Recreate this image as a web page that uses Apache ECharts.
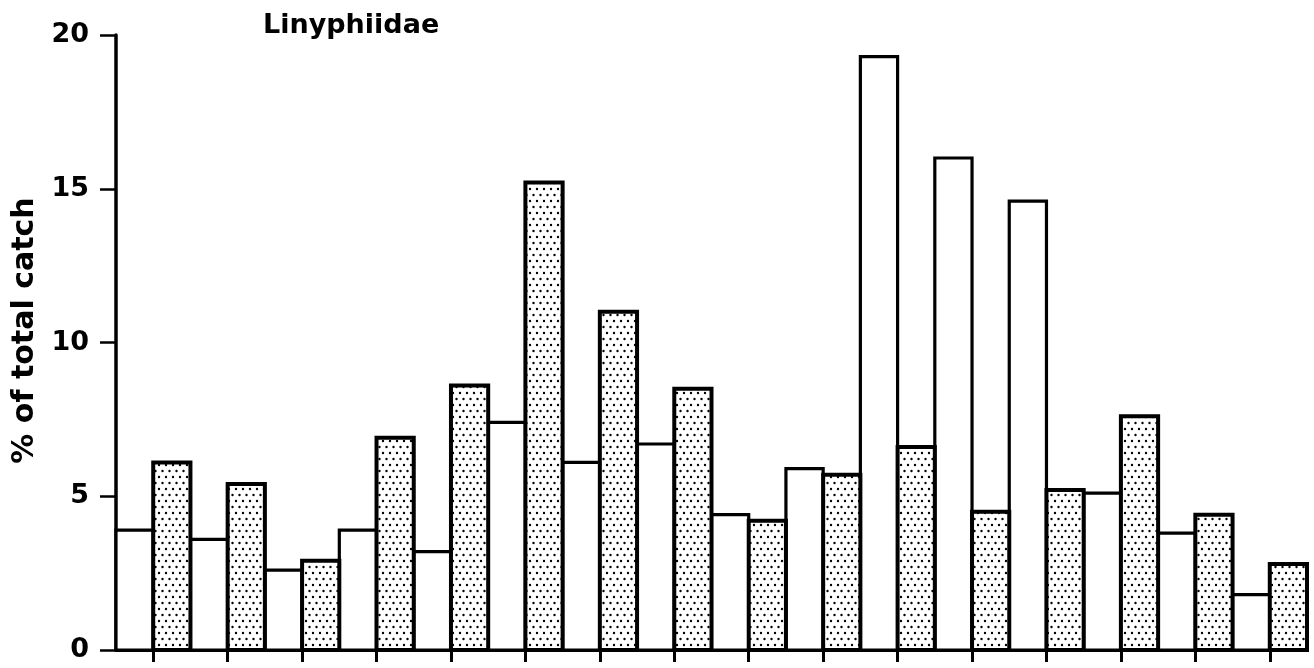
<!DOCTYPE html>
<html>
<head>
<meta charset="utf-8">
<script src="https://cdn.jsdelivr.net/npm/echarts@6/dist/echarts.min.js"></script>
<style>
html,body{margin:0;padding:0;background:#fff;}
#c{width:1314px;height:668px;}
</style>
</head>
<body>
<div id="c"></div>
<script>
// Data
const categories = ['1','2','3','4','5','6','7','8','9','10','11','12','13','14','15','16'];
const openValues = [3.9, 3.6, 2.6, 3.9, 3.2, 7.4, 6.1, 6.7, 4.4, 5.9, 19.3, 16.0, 14.6, 5.1, 3.8, 1.8];
const stippledValues = [6.1, 5.4, 2.9, 6.9, 8.6, 15.2, 11.0, 8.5, 4.2, 5.7, 6.6, 4.5, 5.2, 7.6, 4.4, 2.8];
const yTicks = [0, 5, 10, 15, 20];
const titleText = 'Linyphiidae';
const yName = '% of total catch';

// stipple pattern
const pc = document.createElement('canvas');
pc.width = 7; pc.height = 12;
const g = pc.getContext('2d');
g.fillStyle = '#fff'; g.fillRect(0, 0, 7, 12);
g.fillStyle = '#000';
g.beginPath(); g.arc(1.5, 3, 1.2, 0, Math.PI * 2); g.fill();
g.beginPath(); g.arc(5, 9, 1.2, 0, Math.PI * 2); g.fill();
const stipple = {image: pc, repeat: 'repeat'};

function barRenderer(side, fill, lw) {
  return function (params, api) {
    const idx = api.value(0);
    const val = api.value(1);
    const top = api.coord([idx, val]);
    const base = api.coord([idx, 0]);
    const w = api.size([1, 0])[0] / 2;
    const x = side === 0 ? top[0] - w : top[0];
    return {
      type: 'rect',
      shape: {x: x, y: top[1], width: w, height: base[1] - top[1]},
      style: {fill: fill, stroke: '#000', lineWidth: lw}
    };
  };
}

const chart = echarts.init(document.getElementById('c'), null, {renderer: 'canvas'});
const font = '"DejaVu Sans", sans-serif';
chart.setOption({
  animation: false,
  backgroundColor: '#fff',
  title: {
    text: titleText, left: 258, top: 7,
    textStyle: {fontFamily: font, fontWeight: 'bold', fontSize: 27, color: '#000'}
  },
  grid: {left: 116, right: 7, top: 35, bottom: 18, containLabel: false, outerBoundsMode: 'none'},
  xAxis: {
    type: 'category', data: categories,
    axisLine: {show: true, lineStyle: {color: '#000', width: 3}},
    axisTick: {show: true, alignWithLabel: true, length: 12, lineStyle: {color: '#000', width: 3}},
    axisLabel: {show: false},
    splitLine: {show: false}
  },
  yAxis: {
    type: 'value', min: yTicks[0], max: yTicks[yTicks.length - 1], interval: 5,
    name: yName, nameLocation: 'middle', nameRotate: 90, nameGap: 74,
    nameTextStyle: {fontFamily: font, fontWeight: 'bold', fontSize: 30, color: '#000', padding: [0, 0, 0, 24]},
    axisLine: {show: true, lineStyle: {color: '#000', width: 3.5}},
    axisTick: {show: true, length: 16, lineStyle: {color: '#000', width: 2.5}},
    axisLabel: {margin: 27, fontFamily: font, fontWeight: 'bold', fontSize: 27, color: '#000'},
    splitLine: {show: false}
  },
  series: [
    {
      type: 'custom', name: 'open',
      data: openValues.map((v, i) => [i, v]),
      encode: {x: 0, y: 1},
      renderItem: barRenderer(0, '#fff', 3.2)
    },
    {
      type: 'custom', name: 'stippled',
      data: stippledValues.map((v, i) => [i, v]),
      encode: {x: 0, y: 1},
      renderItem: barRenderer(1, stipple, 4)
    }
  ]
});
</script>
</body>
</html>
